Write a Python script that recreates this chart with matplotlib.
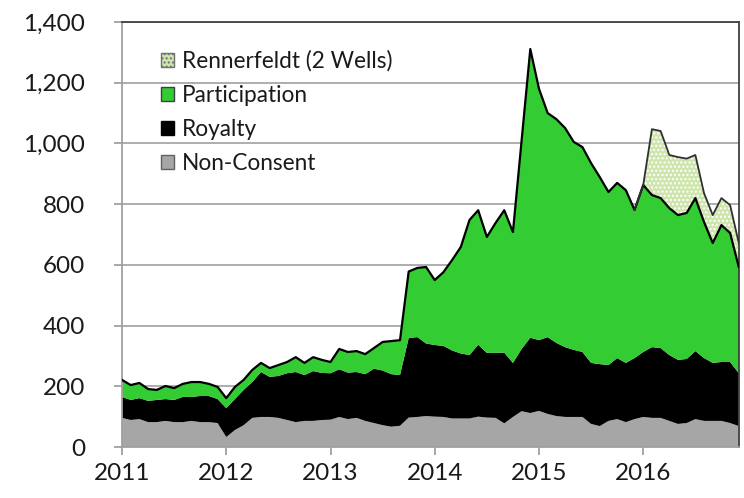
import numpy as np
import matplotlib
matplotlib.use("Agg")
import matplotlib.pyplot as plt
from matplotlib.patches import Patch
from matplotlib.ticker import FuncFormatter

plt.rcParams['font.family'] = ['Lato', 'DejaVu Sans']

# Monthly data, Jan 2011 .. Dec 2016
start_year = 2011
n_months = 72

non_consent = [96, 89, 92, 82, 82, 86, 82, 82, 86, 82, 82, 79,
               33, 56, 72, 96, 99, 99, 96, 89, 82, 86, 86, 89,
               90, 99, 92, 96, 86, 79, 72, 67, 70, 97, 99, 102,
               100, 99, 94, 94, 94, 100, 97, 96, 78, 99, 118, 112,
               119, 109, 102, 99, 99, 99, 76, 69, 86, 92, 82, 92,
               99, 96, 96, 86, 76, 79, 92, 86, 86, 86, 79, 69]

royalty = [69, 66, 69, 70, 73, 72, 73, 83, 79, 86, 86, 79,
           95, 102, 116, 118, 148, 132, 138, 154, 165, 151, 164, 155,
           153, 157, 153, 151, 154, 179, 180, 173, 167, 262, 263, 239,
           236, 234, 224, 214, 209, 237, 213, 214, 233, 178, 205, 248,
           233, 253, 241, 230, 221, 214, 201, 204, 184, 201, 195, 201,
           214, 233, 230, 217, 211, 211, 224, 207, 191, 194, 201, 174]

participation = [56, 49, 50, 39, 33, 43, 39, 43, 49, 46, 40, 40,
                 33, 40, 33, 40, 30, 29, 36, 37, 49, 40, 46, 43,
                 37, 67, 68, 69, 66, 68, 94, 109, 115, 219, 228, 252,
                 214, 243, 298, 351, 445, 443, 382, 428, 469, 431, 687, 951,
                 828, 738, 737, 722, 685, 675, 658, 616, 570, 577, 569, 488,
                 550, 501, 494, 484, 477, 481, 504, 448, 395, 451, 425, 350]

rennerfeldt = [0] * 60 + [0, 217, 221, 175, 191, 179, 142, 95, 92, 89, 92, 79]

series_labels = ["Non-Consent", "Royalty", "Participation", "Rennerfeldt (2 Wells)"]
year_ticks = [2011, 2012, 2013, 2014, 2015, 2016]
y_ticks = [0, 200, 400, 600, 800, 1000, 1200, 1400]

x = start_year + np.arange(n_months) / 12.0
nc = np.array(non_consent, float)
ro = np.array(royalty, float)
pa = np.array(participation, float)
rn = np.array(rennerfeldt, float)
c1 = nc
c2 = c1 + ro
c3 = c2 + pa
c4 = c3 + rn

fig = plt.figure(figsize=(7.44, 4.98), dpi=100)
ax = fig.add_axes([0.164, 0.1024, 0.829, 0.8534])

gray = '#a6a6a6'
green = '#33cc33'
renn_col = '#cfe5ae'

ax.fill_between(x, 0, c1, facecolor=gray, edgecolor='none', zorder=2)
ax.fill_between(x, c1, c2, facecolor='black', edgecolor='none', zorder=2)
ax.fill_between(x, c2, c3, facecolor=green, edgecolor='none', zorder=2)
mask = np.zeros(n_months, bool)
mask[59:] = True
ax.fill_between(x[mask], c3[mask], c4[mask], facecolor=renn_col, edgecolor='none', zorder=2)
ax.fill_between(x[mask], c3[mask], c4[mask], facecolor='none', edgecolor='white',
                hatch='....', linewidth=0, zorder=2.1)
ax.plot(x, c3, color='black', lw=1.6, zorder=3)
ax.plot(x[mask], c4[mask], color='#303030', lw=1.3, zorder=3)

ax.set_xlim(x[0], x[-1])
ax.set_ylim(0, 1400)
ax.set_yticks(y_ticks)
ax.yaxis.set_major_formatter(FuncFormatter(lambda v, p: f"{int(v):,}"))
ax.set_xticks(year_ticks)
ax.set_xticklabels([str(y) for y in year_ticks])
ax.grid(axis='y', color='#a0a0a0', lw=1.2, zorder=1)
ax.set_axisbelow(True)

for s in ['top', 'right']:
    ax.spines[s].set_color('#404040')
    ax.spines[s].set_linewidth(1.3)
for s in ['left', 'bottom']:
    ax.spines[s].set_color('#a0a0a0')
    ax.spines[s].set_linewidth(1.3)
ax.tick_params(axis='both', direction='out', color='#a0a0a0', width=1.3, length=5.5,
               labelsize=17.5, labelcolor='#1a1a1a')
ax.tick_params(axis='y', pad=21)
ax.tick_params(axis='x', pad=6)

handles = [
    Patch(facecolor=renn_col, edgecolor='#707070', hatch='....', label=series_labels[3]),
    Patch(facecolor=green, edgecolor='#404040', label=series_labels[2]),
    Patch(facecolor='black', edgecolor='black', label=series_labels[1]),
    Patch(facecolor=gray, edgecolor='#606060', label=series_labels[0]),
]
leg = ax.legend(handles=handles, loc='upper left', bbox_to_anchor=(0.048, 0.955),
                frameon=False, fontsize=16.3, handlelength=0.6, handleheight=0.6,
                handletextpad=0.35, labelspacing=0.58, borderaxespad=0)
for t in leg.get_texts():
    t.set_color('#1a1a1a')

fig.savefig('out.png', dpi=100)
